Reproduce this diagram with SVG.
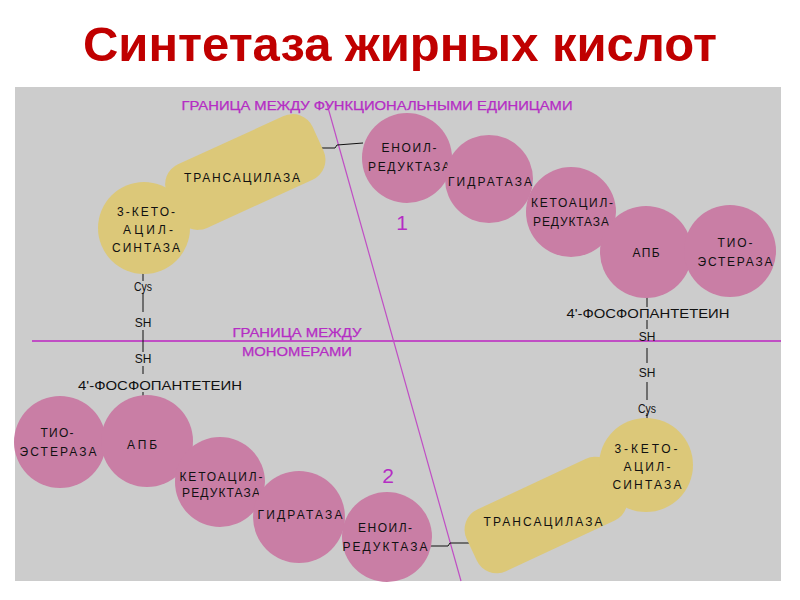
<svg xmlns="http://www.w3.org/2000/svg" width="800" height="600" viewBox="0 0 800 600">
<style>
.bg{fill:#cccccc}
.pink{fill:#c97ea5}
.yel{fill:#dcc879}
.t{font-family:"Liberation Sans",Arial,sans-serif;font-size:12px;fill:#111;text-anchor:middle}
.m{font-family:"Liberation Sans",Arial,sans-serif;font-size:12px;fill:#b52cc4;text-anchor:middle;stroke:#b52cc4;stroke-width:0.25}
.num{font-family:"Liberation Sans",Arial,sans-serif;font-size:21px;fill:#b52cc4;text-anchor:middle}
.ln{stroke:#111;stroke-width:1;fill:none}
.bd{stroke:#c04ec4;fill:none}
.title{font-family:"Liberation Sans",Arial,sans-serif;font-size:48px;font-weight:bold;fill:#c00000;text-anchor:middle}
</style>
<rect x="0" y="0" width="800" height="600" fill="#ffffff"/>
<text class="title" x="400" y="61" textLength="634" lengthAdjust="spacingAndGlyphs">Синтетаза жирных кислот</text>
<rect class="bg" x="15" y="87" width="766" height="494"/>

<g id="boundaries">
<line class="bd" x1="32" y1="341" x2="781" y2="341" stroke-width="2"/>
<line class="bd" x1="327" y1="104" x2="461" y2="581" stroke-width="1.2"/>
<text class="m" x="377" y="110" textLength="391" lengthAdjust="spacingAndGlyphs">ГРАНИЦА МЕЖДУ ФУНКЦИОНАЛЬНЫМИ ЕДИНИЦАМИ</text>
<text class="m" x="297" y="337" textLength="129" lengthAdjust="spacingAndGlyphs">ГРАНИЦА МЕЖДУ</text>
<text class="m" x="297" y="356" textLength="110" lengthAdjust="spacingAndGlyphs">МОНОМЕРАМИ</text>
<text class="num" x="402" y="230">1</text>
<text class="num" x="388" y="483">2</text>
</g>

<g id="connectors">
<polyline class="ln" points="317,148 335,148 337,145 363,143"/>
<polyline class="ln" points="428,546 448,546 450,543 473,543"/>
<line class="ln" x1="143" y1="273" x2="143" y2="281"/>
<line class="ln" x1="143" y1="293" x2="143" y2="312"/>
<line class="ln" x1="143" y1="330" x2="143" y2="352"/>
<line class="ln" x1="143" y1="366" x2="143" y2="374"/>
<line class="ln" x1="143" y1="392" x2="143" y2="400"/>
<line class="ln" x1="647" y1="297" x2="647" y2="307"/>
<line class="ln" x1="647" y1="320" x2="647" y2="329"/>
<line class="ln" x1="647" y1="348" x2="647" y2="363"/>
<line class="ln" x1="647" y1="382" x2="647" y2="400"/>
<line class="ln" x1="647" y1="413" x2="647" y2="419"/>
<text class="t" x="143" y="291" textLength="18" lengthAdjust="spacingAndGlyphs">Cys</text>
<text class="t" x="143" y="327">SH</text>
<text class="t" x="143" y="363">SH</text>
<text class="t" x="160" y="390" textLength="164" lengthAdjust="spacingAndGlyphs">4'-ФОСФОПАНТЕТЕИН</text>
<text class="t" x="648" y="318" textLength="163" lengthAdjust="spacingAndGlyphs">4'-ФОСФОПАНТЕТЕИН</text>
<text class="t" x="647" y="341">SH</text>
<text class="t" x="647" y="377">SH</text>
<text class="t" x="647" y="413" textLength="18" lengthAdjust="spacingAndGlyphs">Cys</text>
</g>

<g id="unit1-transacylase">
<rect class="yel" x="-80" y="-35" width="160" height="70" rx="22" transform="translate(245.3,172) rotate(-24.5)"/>
<text class="t" x="242" y="182" textLength="116" lengthAdjust="spacing">ТРАНСАЦИЛАЗА</text>
</g>
<g id="unit1-ketoacyl-synthase">
<circle class="yel" cx="144" cy="228" r="46"/>
<text class="t" x="146" y="216" textLength="58" lengthAdjust="spacing">3-КЕТО-</text>
<text class="t" x="148" y="234" textLength="50" lengthAdjust="spacing">АЦИЛ-</text>
<text class="t" x="146" y="252" textLength="68" lengthAdjust="spacing">СИНТАЗА</text>
</g>
<g id="unit1-enoyl-reductase">
<circle class="pink" cx="407" cy="158" r="45"/>
<text class="t" x="409" y="152" textLength="55" lengthAdjust="spacing">ЕНОИЛ-</text>
<text class="t" x="409" y="171" textLength="82" lengthAdjust="spacing">РЕДУКТАЗА</text>
</g>
<g id="unit1-hydratase">
<circle class="pink" cx="489" cy="179" r="44"/>
<text class="t" x="490" y="186" textLength="84" lengthAdjust="spacing">ГИДРАТАЗА</text>
</g>
<g id="unit1-ketoacyl-reductase">
<circle class="pink" cx="571" cy="212" r="45"/>
<text class="t" x="572" y="207" textLength="82" lengthAdjust="spacing">КЕТОАЦИЛ-</text>
<text class="t" x="571" y="226" textLength="76" lengthAdjust="spacing">РЕДУКТАЗА</text>
</g>
<g id="unit1-acp">
<circle class="pink" cx="646" cy="252" r="46"/>
<text class="t" x="646" y="257" textLength="27" lengthAdjust="spacing">АПБ</text>
</g>
<g id="unit1-thioesterase">
<circle class="pink" cx="730" cy="251" r="46"/>
<text class="t" x="735" y="247" textLength="35" lengthAdjust="spacing">ТИО-</text>
<text class="t" x="735" y="266" textLength="75" lengthAdjust="spacing">ЭСТЕРАЗА</text>
</g>

<g id="unit2-thioesterase">
<circle class="pink" cx="60" cy="442" r="46"/>
<text class="t" x="57" y="437" textLength="33" lengthAdjust="spacing">ТИО-</text>
<text class="t" x="58" y="456" textLength="77" lengthAdjust="spacing">ЭСТЕРАЗА</text>
</g>
<g id="unit2-acp">
<circle class="pink" cx="147" cy="441" r="46"/>
<text class="t" x="142" y="449" textLength="30" lengthAdjust="spacing">АПБ</text>
</g>
<g id="unit2-ketoacyl-reductase">
<circle class="pink" cx="220" cy="482" r="45"/>
<text class="t" x="221" y="481" textLength="83" lengthAdjust="spacing">КЕТОАЦИЛ-</text>
<text class="t" x="221" y="497" textLength="78" lengthAdjust="spacing">РЕДУКТАЗА</text>
</g>
<g id="unit2-hydratase">
<circle class="pink" cx="299" cy="517" r="46"/>
<text class="t" x="300" y="519" textLength="85" lengthAdjust="spacing">ГИДРАТАЗА</text>
</g>
<g id="unit2-enoyl-reductase">
<circle class="pink" cx="387" cy="537" r="45"/>
<text class="t" x="385" y="532" textLength="54" lengthAdjust="spacing">ЕНОИЛ-</text>
<text class="t" x="385" y="551" textLength="85" lengthAdjust="spacing">РЕДУКТАЗА</text>
</g>
<g id="unit2-transacylase">
<rect class="yel" x="-82" y="-34" width="164" height="68" rx="22" transform="translate(546,515) rotate(-25)"/>
<text class="t" x="543" y="526" textLength="119" lengthAdjust="spacing">ТРАНСАЦИЛАЗА</text>
</g>
<g id="unit2-ketoacyl-synthase">
<circle class="yel" cx="646" cy="465" r="47"/>
<text class="t" x="646" y="453" textLength="63" lengthAdjust="spacing">3-КЕТО-</text>
<text class="t" x="647" y="471" textLength="47" lengthAdjust="spacing">АЦИЛ-</text>
<text class="t" x="647" y="489" textLength="69" lengthAdjust="spacing">СИНТАЗА</text>
</g>
</svg>
